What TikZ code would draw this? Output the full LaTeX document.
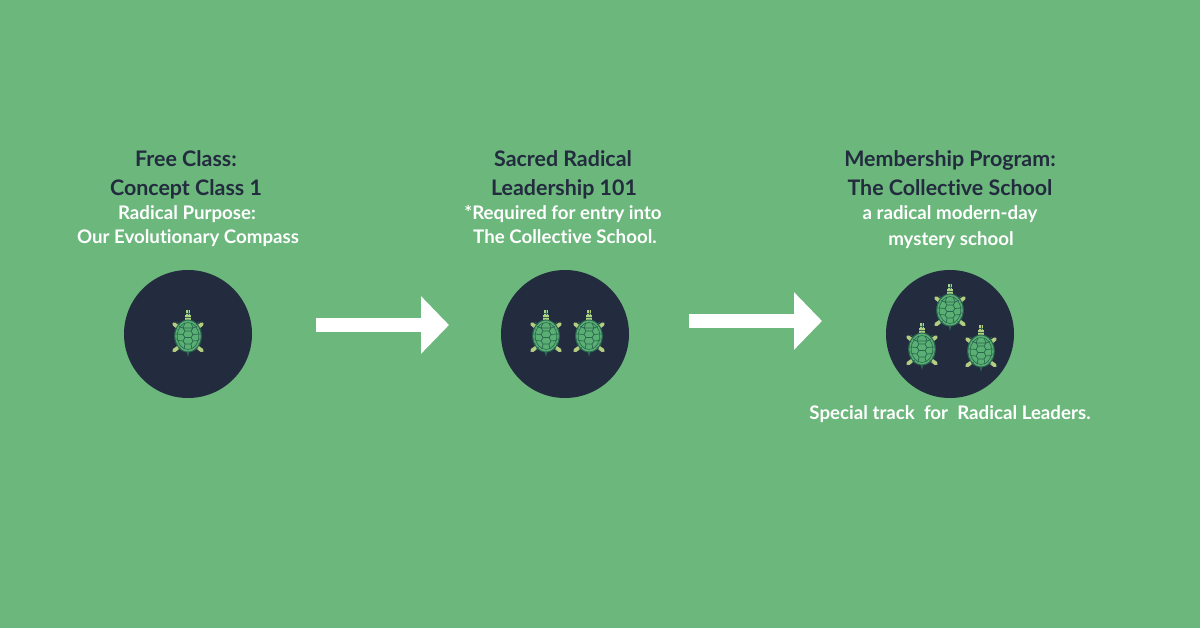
\documentclass[tikz,border=0pt]{standalone}
\usepackage{fontspec}
\setmainfont{Lato}[Ligatures=NoCommon]
\usetikzlibrary{arrows.meta}
\definecolor{bggreen}{HTML}{6BB77C}
\definecolor{navy}{HTML}{232B3E}
\definecolor{shellg}{HTML}{5AB073}
\definecolor{scute}{HTML}{2A6650}
\definecolor{limbg}{HTML}{B3CE80}
\tikzset{
  x=1pt,y=-1pt,
  head/.style={font=\fontsize{21.4}{26}\selectfont\bfseries,text=navy,anchor=base,inner sep=0pt},
  sub/.style={font=\fontsize{18.7}{22}\selectfont\bfseries,text=white,anchor=base,inner sep=0pt},
  disc/.style={circle,fill=navy,draw=none,minimum size=128pt,inner sep=0pt},
  flow/.style={draw=white,line width=14pt,-{Triangle[length=28pt,width=56pt]}},
  limb/.style={draw=limbg,line width=3.8pt,line cap=round},
  turtle/.pic={
    \draw[limb] (-9,-8) -- (-14,-12);
    \draw[limb] (9,-8) -- (14,-12);
    \draw[limb] (-9,11) -- (-14,14.5);
    \draw[limb] (9,11) -- (14,14.5);
    \fill[scute] (-1.8,14) -- (1.8,14) -- (0,21) -- cycle;
    \fill[limbg] (-3.4,-21) rectangle (3.4,-13);
    \fill[limbg] (-2.2,-26) rectangle (2.2,-21);
    \draw[scute,line width=.6pt] (-3.4,-19) -- (3.4,-19) (-2.2,-23) -- (2.2,-23) (0,-26) -- (0,-21);
    \draw[fill=shellg,draw=scute,line width=1pt] (0,0) ellipse [x radius=13.3,y radius=16];
    \draw[scute,line width=.6pt] (0,0) ellipse [x radius=10.8,y radius=13.5];
    \draw[scute,line width=.7pt]
      (-3,-13.3) -- (-5,-8) -- (-3,-5) -- (3,-5) -- (5,-8) -- (3,-13.3)
      (-5,-8) -- (5,-8)
      (-3,-5) -- (-5,-1.5) -- (-3,1.5) -- (3,1.5) -- (5,-1.5) -- (3,-5)
      (-3,1.5) -- (-5,5) -- (-3,8) -- (3,8) -- (5,5) -- (3,1.5)
      (-3,8) -- (-4,13) (3,8) -- (4,13)
      (-5,-8) -- (-9,-9.5) (5,-8) -- (9,-9.5)
      (-5,-1.5) -- (-10.8,-2) (5,-1.5) -- (10.8,-2)
      (-5,5) -- (-10.5,4.5) (5,5) -- (10.5,4.5)
      (-8,-11.5) -- (-11,-14) (8,-11.5) -- (11,-14)
      (-10.5,-7) -- (-13.2,-7) (10.5,-7) -- (13.2,-7)
      (-10.8,-2) -- (-13.3,-2) (10.8,-2) -- (13.3,-2)
      (-10.8,3) -- (-13.3,3) (10.8,3) -- (13.3,3)
      (-10,8) -- (-12.5,8) (10,8) -- (12.5,8)
      (-7.5,11) -- (-10,13.5) (7.5,11) -- (10,13.5);
  }
}
\begin{document}
\begin{tikzpicture}
\useasboundingbox (0,0) rectangle (1200,628);
\fill[bggreen] (0,0) rectangle (1200,628);
% discs
\node[disc] (d1) at (188,334) {};
\node[disc] (d2) at (565,334) {};
\node[disc] (d3) at (950,334) {};
% turtles
\pic at (188,336) {turtle};
\pic at (546,336) {turtle};
\pic at (589,336) {turtle};
\pic at (950,310) {turtle};
\pic at (922,349) {turtle};
\pic at (981,351) {turtle};
% arrows
\coordinate (a1s) at (316,325);
\coordinate (a1e) at (449,325);
\coordinate (a2s) at (689,321);
\coordinate (a2e) at (822,321);
\draw[flow] (a1s) -- (a1e);
\draw[flow] (a2s) -- (a2e);
% column 1
\node[head] (t11) at (186,167) {Free Class:};
\node[head] (t12) at (186,196) {Concept Class 1};
\node[sub] (t13) at (187,220) {Radical Purpose:};
\node[sub] (t14) at (188,244) {Our Evolutionary Compass};
% column 2
\node[head] (t21) at (563,167) {Sacred Radical};
\node[head] (t22) at (564,196) {Leadership 101};
\node[sub] (t23) at (563,220) {*Required for entry into};
\node[sub] (t24) at (565,244) {The Collective School.};
% column 3
\node[head] (t31) at (950,167) {Membership Program:};
\node[head] (t32) at (950,196) {The Collective School};
\node[sub] (t33) at (950,220) {a radical modern-day};
\node[sub] (t34) at (951,246) {mystery school};
\node[sub] (t35) at (950,419) {Special track\ \ for\ \ Radical Leaders.};
\end{tikzpicture}
\end{document}
